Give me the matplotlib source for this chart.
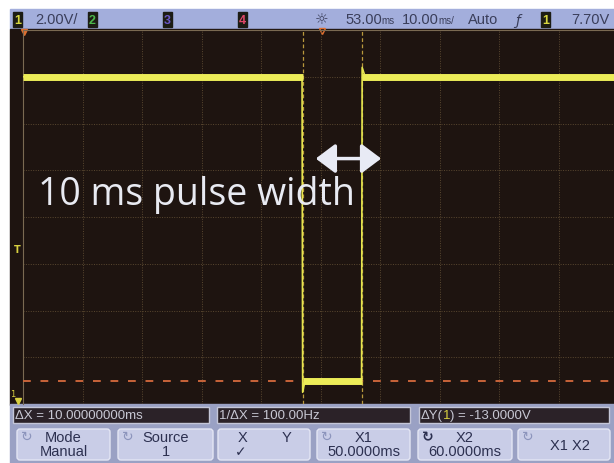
import numpy as np
import matplotlib.pyplot as plt
from matplotlib.patches import Rectangle, FancyBboxPatch

# ---- Scope settings ----
volts_per_div = 2.00
ms_per_div = 10.00
delay_ms = 53.00
screen_center_v = 9.0
trigger_level_v = 7.70
x1_ms = 50.0
x2_ms = 60.0
y2_v = 2.0

# ---- Captured trace (channel 1) ----
trace_t_ms = [3.0, 49.9, 50.0, 50.4, 59.9, 60.0, 60.5, 103.0]
trace_v = [15.0, 15.0, 1.5, 2.0, 2.0, 15.4, 15.0, 15.0]

# flat parts of the pulse (drawn thicker, like the noisy trace)
level_start_ms = [3.0, 50.0, 60.0]
level_end_ms = [50.0, 60.0, 103.0]
level_v = [15.0, 2.0, 15.0]

# annotation
note_text = "10 ms pulse width"
note_pos = (5.5, 9.56)
arrow_from = (52.2, 11.5)
arrow_to = (63.2, 11.5)

# ---- Screen chrome texts ----
status_texts = [("2.00V/", 35), ("Auto", 468), ("7.70V", 571)]
status_times = [("53.00", "ms", 345), ("10.00", "ms/", 402)]
channel_boxes = [("1", 13, "#d8d840"), ("2", 88, "#4cb84c"),
                 ("3", 163, "#6a58c8"), ("4", 238, "#e04868"),
                 ("1", 541, "#d8d840")]
info_boxes = [(13, 196, "ΔX = 10.00000000ms"),
              (217, 193, "1/ΔX = 100.00Hz"),
              (419, 190, None)]
softkeys = [(17, 93, ["Mode", "Manual"], "light"),
            (118, 95, ["Source", "1"], "light"),
            (218, 92, None, None),
            (317, 93, ["X1", "50.0000ms"], "light"),
            (418, 94, ["X2", "60.0000ms"], "dark"),
            (518, 92, ["X1 X2"], "light")]

narrow = ["Liberation Sans Narrow", "Liberation Sans", "DejaVu Sans"]
ui_dark = "#2c3050"
bar_text = "#3a3e5a"

fig = plt.figure(figsize=(6.14, 4.64), dpi=100)

# ---- background axes in pixel coords ----
bg = fig.add_axes([0, 0, 1, 1], zorder=0)
bg.set_xlim(0, 614)
bg.set_ylim(464, 0)
bg.axis("off")

bg.add_patch(Rectangle((10, 10), 604, 20, color="#a3aedc"))
bg.add_patch(Rectangle((10, 30), 604, 376, color="#1e1410"))
bg.add_patch(Rectangle((10, 405), 604, 59, color="#9aa1c4"))

# status bar
for label, x0, col in channel_boxes:
    bg.add_patch(Rectangle((x0, 12.5), 9, 15, color="#1c1c14"))
    bg.text(x0 + 4.5, 20.5, label, color=col, fontsize=9, fontweight="bold",
            ha="center", va="center", family=narrow)
for label, x0 in status_texts:
    bg.text(x0, 20.5, label, color=bar_text, fontsize=10.5, ha="left",
            va="center", family=narrow)
for num, unit, x0 in status_times:
    tn = bg.text(x0, 20.5, num, color=bar_text, fontsize=10.5, ha="left",
                 va="center", family=narrow)
    bg.annotate(unit, xy=(1, 0.08), xycoords=tn, color=bar_text, fontsize=7,
                ha="left", va="bottom", family=narrow)
bg.text(322, 20, "☼", color=bar_text, fontsize=11, ha="center",
        va="center", family="DejaVu Sans")
bg.text(518, 20.5, "ƒ", color=bar_text, fontsize=10, ha="center",
        va="center", family="DejaVu Sans", style="italic")

# markers in the left margin / top edge
bg.text(17, 250, "T", color="#d8d040", fontsize=7, fontweight="bold",
        ha="center", va="center")
bg.text(13, 395, "1", color="#d8d040", fontsize=6, ha="center", va="center")
bg.plot(18, 402, marker="v", color="#d8d040", ms=4)
bg.plot(24, 33, marker="v", color="#e07030", ms=4)
bg.plot(322, 32, marker="v", color="#e07030", ms=4, mfc="none")

# cursor readouts
for x0, w, label in info_boxes:
    bg.add_patch(Rectangle((x0, 408), w, 16, fc="#2b2228", ec="#c4c6d8",
                           lw=1))
    if label:
        bg.text(x0 + 2, 416.5, label, color="#c8c8d4", fontsize=9.5,
                ha="left", va="center", family=narrow)
t1 = bg.text(421, 416.5, "ΔY(", color="#c8c8d4", fontsize=9.5, ha="left",
             va="center", family=narrow)
t2 = bg.annotate("1", xy=(1, 0), xycoords=t1, color="#d8d040",
                 fontsize=9.5, ha="left", va="bottom", family=narrow)
bg.annotate(") = -13.0000V", xy=(1, 0), xycoords=t2, color="#c8c8d4",
            fontsize=9.5, ha="left", va="bottom", family=narrow)

# softkeys
for x0, w, lines, icon in softkeys:
    bg.add_patch(FancyBboxPatch((x0, 430), w, 31,
                                boxstyle="round,pad=0,rounding_size=3",
                                fc="#c9cde7", ec="#e4e6f4", lw=1))
    cx = x0 + w / 2
    if lines is not None:
        if len(lines) == 2:
            bg.text(cx, 438.5, lines[0], color=ui_dark, fontsize=10.5,
                    ha="center", va="center", family=narrow)
            bg.text(cx, 452.5, lines[1], color=ui_dark, fontsize=10.5,
                    ha="center", va="center", family=narrow)
        else:
            bg.text(cx + 6, 446, lines[0], color=ui_dark, fontsize=10.5,
                    ha="center", va="center", family=narrow)
    if icon:
        bg.text(x0 + 10, 437, "↻", fontsize=10, ha="center", va="center",
                family="DejaVu Sans",
                color="#8c94bc" if icon == "light" else ui_dark,
                fontweight="bold" if icon == "dark" else "normal")
bg.text(243, 438.5, "X", color=ui_dark, fontsize=10.5, ha="center",
        va="center", family=narrow)
bg.text(287, 438.5, "Y", color=ui_dark, fontsize=10.5, ha="center",
        va="center", family=narrow)
bg.text(241, 452.5, "✓", color=ui_dark, fontsize=10, ha="center",
        va="center", family="DejaVu Sans")

# ---- scope screen axes ----
ax = fig.add_axes([23 / 614, 59 / 464, 595 / 614, 374 / 464], zorder=2)
ax.patch.set_alpha(0)
ax.set_xlim(delay_ms - 5 * ms_per_div, delay_ms + 5 * ms_per_div)
ax.set_ylim(screen_center_v - 4 * volts_per_div,
            screen_center_v + 4 * volts_per_div)
ax.set_xticks(np.arange(delay_ms - 5 * ms_per_div,
                        delay_ms + 5.5 * ms_per_div, ms_per_div))
ax.set_yticks(np.arange(screen_center_v - 4 * volts_per_div,
                        screen_center_v + 4.5 * volts_per_div, volts_per_div))
ax.tick_params(length=0, labelbottom=False, labelleft=False)
ax.grid(True, color="#5a4830", lw=0.7, ls=(0, (1, 1.5)))
for side in ["right", "bottom"]:
    ax.spines[side].set_visible(False)
for side in ["left", "top"]:
    ax.spines[side].set_color("#7a6a52")
    ax.spines[side].set_linewidth(0.8)

# cursors
for xc in [x1_ms, x2_ms]:
    ax.axvline(xc, color="#b8983c", lw=0.9, ls=(0, (3, 2)), zorder=3)
ax.axhline(y2_v, color="#c8643a", lw=1.4, ls=(0, (4, 5)), zorder=3)

# trace
ax.plot(trace_t_ms, trace_v, color="#e6e650", lw=1.2, zorder=5)
for t0, t1_, v in zip(level_start_ms, level_end_ms, level_v):
    ax.plot([t0, t1_], [v, v], color="#ecec58", lw=5,
            solid_capstyle="butt", zorder=6)

# annotation
ax.text(note_pos[0], note_pos[1], note_text, color="#e8eaf2", fontsize=27,
        family="Open Sans", ha="left", va="baseline", zorder=7)
ax.annotate("", xy=arrow_to, xytext=arrow_from,
            arrowprops=dict(arrowstyle="<|-|>,head_length=0.6,head_width=0.45",
                            color="#e8eaf5", lw=2.5, mutation_scale=20,
                            shrinkA=0, shrinkB=0), zorder=7)

fig.savefig("out.png", dpi=100, facecolor="white")
